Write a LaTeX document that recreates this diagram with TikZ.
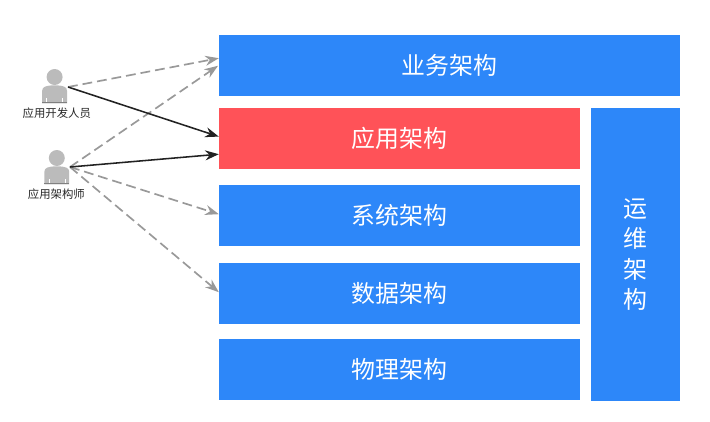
\documentclass[tikz,border=0pt]{standalone}
\usepackage{fontspec}
\setmainfont{Noto Sans CJK SC}
\usetikzlibrary{arrows.meta}
\definecolor{layerblue}{HTML}{2D87F9}
\definecolor{layerred}{HTML}{FF5258}
\definecolor{persongray}{HTML}{BBBBBB}
\definecolor{dashgray}{HTML}{999999}
\definecolor{solidblack}{HTML}{222222}
\tikzset{
    layer/.style={fill=layerblue, text=white, font=\fontsize{17}{21.4}\selectfont, minimum height=1.525cm, minimum width=9.025cm, inner sep=0pt, align=center},
    role/.style={text=black!85, font=\fontsize{8.1}{9}\selectfont, inner sep=0pt},
    useline/.style={>={Stealth[length=0.34cm,width=0.25cm]}, ->, solidblack, line width=1.1pt},
    viewline/.style={>={Stealth[length=0.34cm,width=0.25cm]}, ->, dashgray, dash pattern=on 7pt off 3.5pt, line width=1.2pt},
    person/.pic={
        \fill[persongray] (0,0.2) circle (0.2);
        \fill[persongray] (-0.31,-0.46) -- (-0.31,-0.14) .. controls (-0.31,-0.04) and (-0.2,-0.02) .. (-0.08,-0.01) -- (0.08,-0.01) .. controls (0.2,-0.02) and (0.31,-0.04) .. (0.31,-0.14) -- (0.31,-0.46) -- cycle;
        \draw[white, line width=0.3pt] (-0.2,-0.46) -- (-0.2,-0.32) (0.2,-0.46) -- (0.2,-0.32);
        \fill[black!50] (-0.31,-0.46) rectangle (0.31,-0.42);
    }
}
\begin{document}
\begin{tikzpicture}
    \useasboundingbox (0,0) rectangle (17.75,10.525);

    % layers
    \node[layer, minimum width=11.525cm] (biz) at (11.24,8.89) {业务架构};
    \node[layer, fill=layerred] (app) at (9.99,7.06) {应用架构};
    \node[layer] (sys) at (9.99,5.14) {系统架构};
    \node[layer] (data) at (9.99,3.19) {数据架构};
    \node[layer] (phys) at (9.99,1.29) {物理架构};
    \node[layer, minimum width=2.225cm, minimum height=7.325cm] (ops) at (15.89,4.16) {运\\维\\架\\构};

    % people
    \pic at (1.365,8.4) {person};
    \pic at (1.42,6.375) {person};
    \node[role] (dev) at (1.42,7.7) {应用开发人员};
    \node[role] (arch) at (1.41,5.67) {应用架构师};

    % ends of the connectors
    \coordinate (devport) at (1.7,8.35);
    \coordinate (archport) at (1.75,6.35);
    \coordinate (bizin1) at (5.47,9.07);
    \coordinate (bizin2) at (5.45,8.88);
    \coordinate (appin1) at (5.47,7.11);
    \coordinate (appin2) at (5.47,6.67);
    \coordinate (sysin) at (5.47,5.17);
    \coordinate (datain) at (5.47,3.22);

    % connectors
    \draw[viewline] (devport) -- (bizin1);
    \draw[viewline] (archport) -- (bizin2);
    \draw[viewline] (archport) -- (sysin);
    \draw[viewline] (archport) -- (datain);
    \draw[useline] (devport) -- (appin1);
    \draw[useline] (archport) -- (appin2);
\end{tikzpicture}
\end{document}
